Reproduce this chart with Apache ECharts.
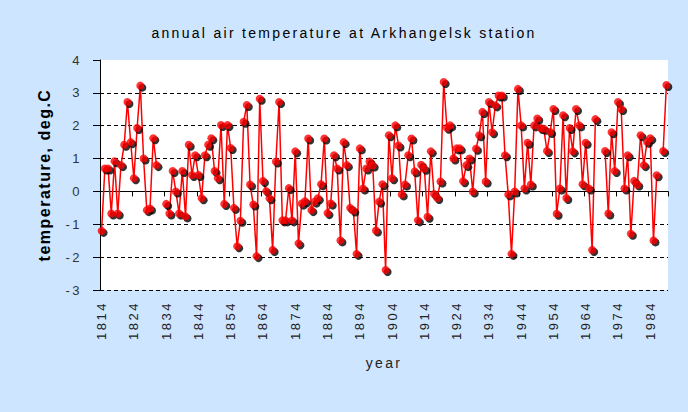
<!DOCTYPE html>
<html>
<head>
<meta charset="utf-8">
<script src="https://cdn.jsdelivr.net/npm/echarts@6/dist/echarts.min.js"></script>
<style>
  html, body { margin: 0; padding: 0; background: #cde5ff; }
  #chart { width: 688px; height: 412px; }
  text[style*="Liberation Sans"] { letter-spacing: 2.3px; }
  text[style*="Arial"] { letter-spacing: 2.5px; }
  text[style*="Helvetica"] { letter-spacing: 1.5px; }
</style>
</head>
<body>
<div id="chart"></div>
<script>
// ---- data ----
const titleText = 'annual air temperature at Arkhangelsk station';
const xName = 'year';
const yName = 'temperature, deg.C';
const firstYear = 1814;
const lastYear = 1989;
const years = [];
for (let y = firstYear; y <= lastYear; y++) years.push(String(y));

// annual mean temperature, deg.C (null = missing year)
const temps = [
  -1.2, 0.7, 0.7, -0.67, 0.92, -0.67, 0.8, 1.42, 2.72, 1.5,      // 1814-1823
  0.4, 1.93, 3.22, 1.0, -0.57, -0.52, 1.62, 0.8, null, null,     // 1824-1833
  -0.38, -0.67, 0.62, 0.0, -0.67, 0.62, -0.76, 1.42, 0.5, 1.1,   // 1834-1843
  0.5, -0.21, 1.1, 1.42, 1.62, 0.62, 0.4, 2.02, -0.38, 2.02,     // 1844-1853
  1.32, -0.5, -1.67, -0.89, 2.12, 2.63, 0.21, -0.4, -1.97, 2.82, // 1854-1863
  0.32, 0.01, -0.21, -1.78, 0.91, 2.72, -0.88, -0.88, 0.1, -0.88,// 1864-1873
  1.22, -1.58, -0.37, -0.3, 1.61, -0.57, -0.31, -0.21, 0.22, 1.61,// 1874-1883
  -0.66, -0.37, 1.1, 0.7, -1.49, 1.5, 0.8, -0.5, -0.58, -1.9,    // 1884-1893
  1.31, 0.09, 0.7, 0.91, 0.79, -1.19, -0.31, 0.22, -2.39, 1.71,  // 1894-1903
  0.4, 2.01, 1.4, -0.09, 0.21, 1.1, 1.61, 0.61, -0.88, 0.81,     // 1904-1913
  0.69, -0.77, 1.22, -0.08, -0.2, 0.3, 3.33, 1.94, 2.01, 1.0,    // 1914-1923
  1.31, 1.31, 0.31, 0.8, 1.0, 0.0, 1.3, 1.71, 2.42, 0.3,         // 1924-1933
  2.72, 1.8, 2.62, 2.92, 2.92, 1.1, -0.09, -1.9, 0.0, 3.12,      // 1934-1943
  2.01, 0.09, 1.48, 0.21, 2.01, 2.22, 1.93, 1.91, 1.23, 1.81,    // 1944-1953
  2.51, -0.68, 0.09, 2.32, -0.2, 1.93, 1.22, 2.51, 2.01, 0.22,   // 1954-1963
  1.48, 0.09, -1.78, 2.2, null, null, 1.23, -0.67, 1.8, 0.62,    // 1964-1973
  2.72, 2.51, 0.09, 1.1, -1.29, 0.32, 0.21, 1.71, 0.8, 1.51,     // 1974-1983
  1.62, -1.49, 0.49, null, 1.23, 3.24                            // 1984-1989
];

const yMin = -3, yMax = 4, yStep = 1;

// ---- chart ----
const chart = echarts.init(document.getElementById('chart'), null, { renderer: 'svg' });
const gridColors = [];
for (let v = yMin; v <= yMax; v += yStep) gridColors.push(v === yMax ? 'rgba(0,0,0,0)' : '#000');

chart.setOption({
  backgroundColor: '#cde5ff',
  animation: false,
  title: {
    text: titleText,
    left: 'center',
    top: 21,
    textStyle: { fontFamily: 'Liberation Sans', fontSize: 14, fontWeight: 'normal', color: '#000' }
  },
  grid: { left: 100, right: 20, top: 60, bottom: 122, show: true, backgroundColor: '#fff', borderWidth: 0 },
  xAxis: {
    type: 'category',
    data: years,
    boundaryGap: true,
    name: xName,
    nameLocation: 'middle',
    nameGap: 66,
    nameTextStyle: { fontFamily: 'Liberation Sans', fontSize: 14, color: '#222' },
    axisLine: { show: true, lineStyle: { color: '#000', width: 1 } },
    axisTick: { show: true, interval: 9, length: 5, lineStyle: { color: '#000' } },
    axisLabel: { interval: 9, rotate: 90, margin: 11, fontFamily: 'Arial', fontSize: 13, color: '#222' },
    splitLine: { show: false }
  },
  yAxis: {
    type: 'value',
    min: yMin, max: yMax, interval: yStep,
    name: yName,
    nameLocation: 'middle',
    nameGap: 48,
    nameTextStyle: { fontFamily: 'Helvetica', fontSize: 16, fontWeight: 'bold', color: '#000' },
    axisLine: { show: true, lineStyle: { color: '#000', width: 1 } },
    axisTick: { show: true, length: 7, lineStyle: { color: '#000' } },
    axisLabel: { margin: 18, fontFamily: 'Arial', fontSize: 13, color: '#333' },
    splitLine: { show: true, lineStyle: { color: gridColors, type: [4, 3], width: 1 } }
  },
  series: [
    {
      type: 'line',
      data: temps,
      showSymbol: false,
      connectNulls: false,
      lineStyle: { color: '#ff0000', width: 1.5 },
      z: 2
    },
    {
      type: 'scatter',
      data: temps,
      symbol: 'circle',
      symbolSize: 8,
      symbolOffset: [2, 2],
      itemStyle: { color: '#000' },
      z: 3
    },
    {
      type: 'scatter',
      data: temps,
      symbol: 'circle',
      symbolSize: 8,
      itemStyle: { color: '#ff0000' },
      z: 4
    }
  ]
});
</script>
</body>
</html>
